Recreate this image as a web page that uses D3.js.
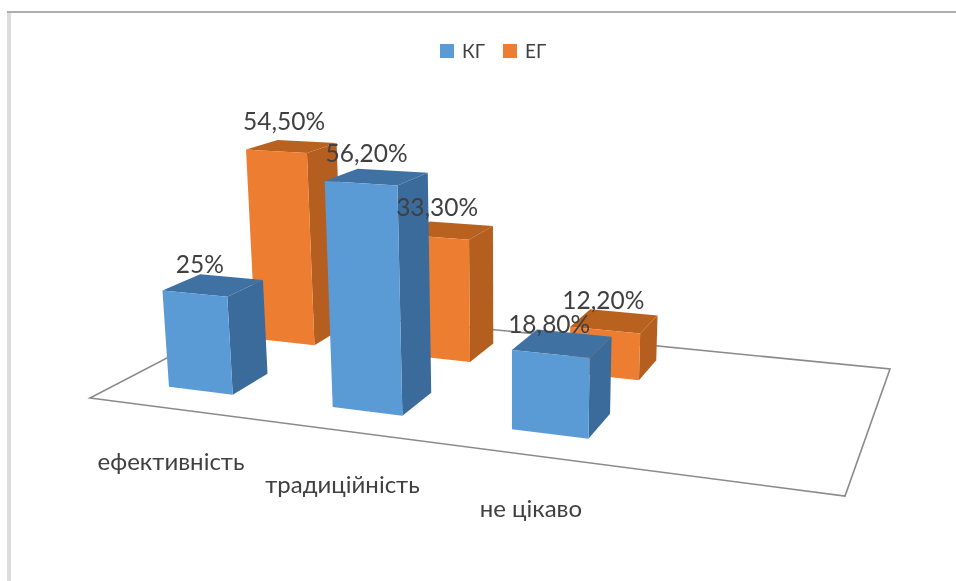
<!DOCTYPE html>
<html>
<head>
<meta charset="utf-8">
<script src="https://cdnjs.cloudflare.com/ajax/libs/d3/7.8.5/d3.min.js"></script>
<style>
  html, body { margin: 0; padding: 0; background: #fff; }
  svg { display: block; filter: blur(0.65px); }
  text { font-family: Lato, "Open Sans", sans-serif; fill: #404040; }
</style>
</head>
<body>
<svg id="chart" width="956" height="581"></svg>
<script>
// the 4th category is empty, that's why the floor has room on the right
var categories = ["ефективність", "традиційність", "не цікаво", ""];
var seriesNames = ["КГ", "ЕГ"];
var valuesKG = [25, 56.2, 18.8];
var valuesEG = [54.5, 33.3, 12.2];
var frontColors = ["#5b9bd5", "#ed7d31"];
var sideColors = ["#3a6b9b", "#b45f20"];
var topColors = ["#3f71a2", "#b9621f"];

var svg = d3.select("#chart");

// ranges nudged by hand so the bars land where they are in the picture
var xBand = d3.scaleBand().domain(categories).range([0, 1.006]).paddingInner(0.6).paddingOuter(0.3);
var depthBand = d3.scaleBand().domain(seriesNames).range([0.008, 1.008]).paddingInner(0.6).paddingOuter(0.3);
var heightScale = d3.scaleLinear().domain([0, 100]).range([0, 393]);

// floor plane corners on screen: (0,0) (1,0) (1,1) (0,1)
var floorCorners = [[90, 398], [845, 496], [890, 369], [265, 307]];

var homography = (function(q) {
  var sx = q[0][0] - q[1][0] + q[2][0] - q[3][0];
  var sy = q[0][1] - q[1][1] + q[2][1] - q[3][1];
  var dx1 = q[1][0] - q[2][0], dx2 = q[3][0] - q[2][0];
  var dy1 = q[1][1] - q[2][1], dy2 = q[3][1] - q[2][1];
  var det = dx1 * dy2 - dx2 * dy1;
  var g = (sx * dy2 - dx2 * sy) / det;
  var h = (dx1 * sy - sx * dy1) / det;
  return {
    a: q[1][0] - q[0][0] + g * q[1][0], b: q[3][0] - q[0][0] + h * q[3][0], c: q[0][0],
    d: q[1][1] - q[0][1] + g * q[1][1], e: q[3][1] - q[0][1] + h * q[3][1], f: q[0][1],
    g: g, h: h
  };
})(floorCorners);

// u along the categories, v into the depth, value lifts the point up
function project(u, v, value) {
  var m = homography;
  var w = m.g * u + m.h * v + 1;
  var x = (m.a * u + m.b * v + m.c) / w;
  var y = (m.d * u + m.e * v + m.f) / w;
  var lift = heightScale(value || 0) / w;
  // verticals lean out a bit, manual nudge
  return [x + (x - 510) * lift * 0.0002, y - lift];
}

var line = d3.line();
function face(points) { return line(points) + "Z"; }

// back series first so the front one paints over it
var bars = [];
[valuesEG, valuesKG].forEach(function(values, i) {
  var s = 1 - i;
  values.forEach(function(value, c) {
    bars.push({ series: s, category: categories[c], value: value });
  });
});

function corners(d, value) {
  var u0 = xBand(d.category), u1 = u0 + xBand.bandwidth();
  var v0 = depthBand(seriesNames[d.series]), v1 = v0 + depthBand.bandwidth();
  return [project(u0, v0, value), project(u1, v0, value), project(u1, v1, value), project(u0, v1, value)];
}

function valueLabel(v) {
  return Number.isInteger(v) ? v + "%" : v.toFixed(2).replace(".", ",") + "%";
}

// frame of the pasted picture
svg.append("rect").attr("x", 7).attr("y", 12).attr("width", 4).attr("height", 569).attr("fill", "#dcdcdc");
svg.append("rect").attr("x", 7).attr("y", 11).attr("width", 949).attr("height", 2).attr("fill", "#aeaeae");

svg.append("path")
  .attr("d", face(floorCorners))
  .attr("fill", "none")
  .attr("stroke", "#8a8a8a")
  .attr("stroke-width", 1.6);

var barGroups = svg.selectAll("g.bar")
  .data(bars)
  .enter()
  .append("g")
  .attr("class", "bar");

barGroups.append("path")
  .attr("d", function(d) {
    var b = corners(d, 0), t = corners(d, d.value);
    return face([b[1], b[2], t[2], t[1]]);
  })
  .attr("fill", function(d) { return sideColors[d.series]; });

barGroups.append("path")
  .attr("d", function(d) { return face(corners(d, d.value)); })
  .attr("fill", function(d) { return topColors[d.series]; });

barGroups.append("path")
  .attr("d", function(d) {
    var b = corners(d, 0), t = corners(d, d.value);
    return face([b[0], b[1], t[1], t[0]]);
  })
  .attr("fill", function(d) { return frontColors[d.series]; });

// data labels: x from the middle of the bar's foot, y above the top front edge
svg.selectAll("text.value")
  .data(bars)
  .enter()
  .append("text")
  .attr("class", "value")
  .attr("text-anchor", "middle")
  .attr("font-size", 24.5)
  .attr("transform", function(d) {
    var b = corners(d, 0), t = corners(d, d.value);
    return "translate(" + ((b[0][0] + b[1][0]) / 2 - 1) + "," + ((t[0][1] + t[1][1]) / 2 - 21) + ")";
  })
  .text(function(d) { return valueLabel(d.value); });

svg.selectAll("text.category")
  .data(categories.filter(function(c) { return c !== ""; }))
  .enter()
  .append("text")
  .attr("class", "category")
  .attr("text-anchor", "middle")
  .attr("font-size", 24)
  .attr("transform", function(d) {
    var p = project(xBand(d) + xBand.bandwidth() / 2, 0);
    return "translate(" + (p[0] + 1) + "," + (p[1] + 62) + ")";
  })
  .text(function(d) { return d; });

var legendX = d3.scalePoint().domain(seriesNames).range([440, 503]);

var legend = svg.selectAll("g.legend")
  .data(seriesNames)
  .enter()
  .append("g")
  .attr("class", "legend")
  .attr("transform", function(d) { return "translate(" + legendX(d) + ",44)"; });

legend.append("rect")
  .attr("width", 14)
  .attr("height", 14)
  .attr("fill", function(d, i) { return frontColors[i]; });

legend.append("text")
  .attr("x", 22)
  .attr("y", 14)
  .attr("font-size", 19)
  .text(function(d) { return d; });
</script>
</body>
</html>
